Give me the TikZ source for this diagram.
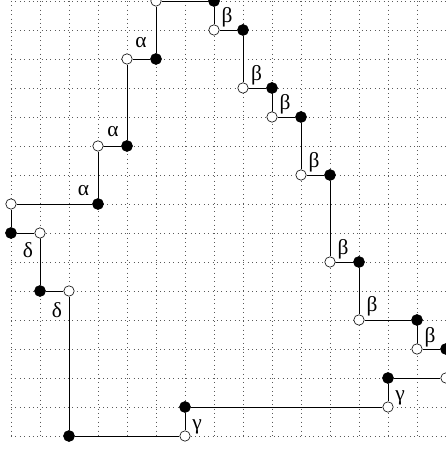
\documentclass[tikz,border=0pt]{standalone}
\usepackage{fontspec}
\setmainfont{Liberation Serif}
\begin{document}
\begin{tikzpicture}[x=1cm,y=-1cm,
  open/.style={circle,draw,fill=white,inner sep=0pt,minimum size=0.36cm,line width=0.6pt},
  full/.style={circle,draw,fill=black,inner sep=0pt,minimum size=0.38cm,line width=0.6pt},
  pathline/.style={line width=0.8pt},
  lab/.style={font=\fontsize{21}{24}\selectfont,inner sep=0pt},
  gridline/.style={line width=0.7pt,dash pattern=on 0.7pt off 3.6pt,black!65}]
\useasboundingbox (-0.379,-0.034) rectangle (14.966,15.483);
\foreach \i in {0,...,15} {
  \draw[gridline] (\i,0) -- (\i,15);
  \draw[gridline] (0,\i) -- (15,\i);
}
\foreach \c/\r in {5/0,7/1,8/3,9/4,10/6,11/9,12/11,14/12,15/13,13/14,6/15,2/10,1/8,0/7,3/5,4/2}
  \node[open] (o\c-\r) at (\c,\r) {};
\foreach \c/\r in {7/0,8/1,9/3,10/4,11/6,12/9,14/11,15/12,13/13,6/14,2/15,1/10,0/8,3/7,4/5,5/2}
  \node[full] (f\c-\r) at (\c,\r) {};
\draw[pathline] (o5-0) -- (f7-0) -- (o7-1) -- (f8-1) -- (o8-3) -- (f9-3) -- (o9-4)
  -- (f10-4) -- (o10-6) -- (f11-6) -- (o11-9) -- (f12-9) -- (o12-11) -- (f14-11)
  -- (o14-12) -- (f15-12) -- (o15-13) -- (f13-13) -- (o13-14) -- (f6-14) -- (o6-15)
  -- (f2-15) -- (o2-10) -- (f1-10) -- (o1-8) -- (f0-8) -- (o0-7) -- (f3-7) -- (o3-5)
  -- (f4-5) -- (o4-2) -- (f5-2) -- (o5-0);
% labels
\node[lab] (a1) at (2.5,6.53) {α};
\node[lab] (a2) at (3.52,4.5) {α};
\node[lab] (a3) at (4.48,1.42) {α};
\node[lab] (b1) at (7.45,0.55) {β};
\node[lab] (b2) at (8.47,2.55) {β};
\node[lab] (b3) at (9.45,3.55) {β};
\node[lab] (b4) at (10.45,5.55) {β};
\node[lab] (b5) at (11.45,8.55) {β};
\node[lab] (b6) at (12.45,10.52) {β};
\node[lab] (b7) at (14.45,11.58) {β};
\node[lab] (g1) at (6.42,14.68) {γ};
\node[lab] (g2) at (13.42,13.68) {γ};
\node[lab] (d1) at (0.58,8.6) {δ};
\node[lab] (d2) at (1.58,10.65) {δ};
\end{tikzpicture}
\end{document}
